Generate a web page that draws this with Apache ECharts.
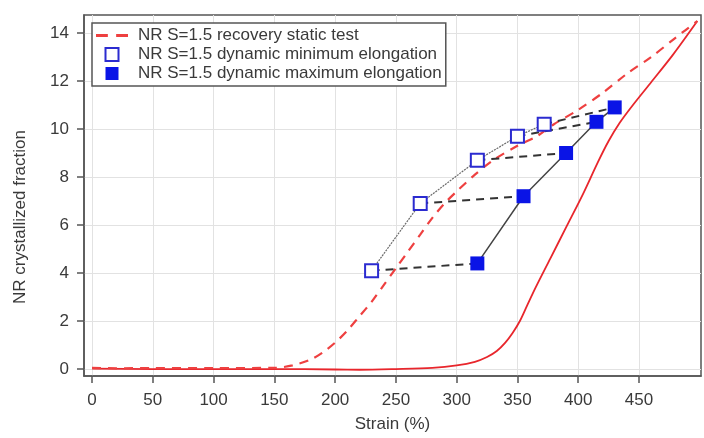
<!DOCTYPE html>
<html>
<head>
<meta charset="utf-8">
<script src="https://cdn.jsdelivr.net/npm/echarts@6/dist/echarts.min.js"></script>
<style>html,body{margin:0;padding:0;background:#fff}#c{width:704px;height:438px}</style>
</head>
<body>
<div id="c"></div>
<script>
// Strain (%) / NR crystallized fraction
const staticRecovery = [[0,0.05],[20,0.03],[50,0.04],[100,0.04],[150,0.05],[165,0.15],[180,0.4],[190,0.7],[200,1.1],[210,1.6],[220,2.2],[230,2.8],[240,3.5],[250,4.2],[260,4.9],[270,5.6],[280,6.3],[290,6.9],[300,7.4],[315,8.1],[330,8.7],[350,9.3],[366,9.7],[380,10.2],[400,10.8],[420,11.5],[440,12.3],[460,13.0],[480,13.8],[498,14.5]];
const staticLoading = [[0,0.02],[50,0.0],[100,0.0],[150,0.0],[200,-0.02],[220,-0.03],[250,0.0],[280,0.05],[300,0.15],[315,0.3],[325,0.5],[333,0.75],[340,1.1],[346,1.5],[352,2.0],[358,2.65],[365,3.4],[377,4.6],[390,5.9],[404,7.3],[416,8.6],[425,9.5],[434,10.25],[445,11.0],[460,11.95],[478,13.1],[498,14.5]];
const dynMin = [[230,4.1],[270,6.9],[317,8.7],[350,9.7],[372,10.2]];
const dynMax = [[317,4.4],[355,7.2],[390,9.0],[415,10.3],[430,10.9]];
const xTicks = [0,50,100,150,200,250,300,350,400,450];
const yTicks = [0,2,4,6,8,10,12,14];
const names = ['NR S=1.5 recovery static test','NR S=1.5 dynamic minimum elongation','NR S=1.5 dynamic maximum elongation'];

const FONT = 'Liberation Sans, Arial, sans-serif';
const TXT = '#3a3a3a';
const AX = '#555';
const RED = '#ee4040';
const BLUE = '#0a14e6';
const BLUE_OPEN = '#2b2bd0';

const pairSeries = dynMin.map((p, i) => ({
  type: 'line', data: [p, dynMax[i]], symbol: 'none', silent: true, z: 3,
  lineStyle: { color: '#333', width: 2, type: [8, 6] }
}));

const chart = echarts.init(document.getElementById('c'), null, { renderer: 'canvas' });
chart.setOption({
  animation: false,
  backgroundColor: '#fff',
  textStyle: { fontFamily: FONT },
  grid: { left: 84, right: 3, top: 15, bottom: 59, show: true, borderColor: AX, borderWidth: 1.5, backgroundColor: 'transparent' },
  legend: {
    data: [
      { name: names[0], icon: 'path://M0,0h10v2.4h-10zM17,0h10v2.4h-10z', itemStyle: { color: RED, borderWidth: 0 } },
      { name: names[1], icon: 'path://M0,0h10v10h-10z', itemStyle: { color: '#fff', borderColor: BLUE_OPEN, borderWidth: 2 } },
      { name: names[2], icon: 'path://M0,0h10v10h-10z', itemStyle: { color: BLUE, borderWidth: 0 } }
    ],
    orient: 'vertical', left: 92, top: 23, symbolKeepAspect: true,
    padding: [4, 4, 4, 4], itemGap: 2, itemWidth: 32, itemHeight: 13,
    backgroundColor: '#fff', borderColor: AX, borderWidth: 1.5, borderRadius: 0,
    textStyle: { fontSize: 17, color: TXT, fontFamily: FONT, padding: [0, 0, 0, 5] }
  },
  xAxis: {
    type: 'value', min: -6.6, max: 501,
    axisLine: { show: true, onZero: false, lineStyle: { color: AX, width: 1.5 } },
    axisTick: { show: true, length: 7, customValues: xTicks, lineStyle: { color: AX, width: 1.5 } },
    axisLabel: { customValues: xTicks, fontSize: 17, color: TXT, margin: 16, fontFamily: FONT },
    splitLine: { show: true, lineStyle: { color: '#e2e2e2', width: 1 } },
    name: 'Strain (%)', nameLocation: 'middle', nameGap: 40,
    nameTextStyle: { fontSize: 17, color: TXT, fontFamily: FONT }
  },
  yAxis: {
    type: 'value', min: -0.29, max: 14.75,
    axisLine: { show: true, onZero: false, lineStyle: { color: AX, width: 1.5 } },
    axisTick: { show: true, length: 7, customValues: yTicks, lineStyle: { color: AX, width: 1.5 } },
    axisLabel: { customValues: yTicks, fontSize: 17, color: TXT, margin: 15, fontFamily: FONT },
    splitLine: { show: true, lineStyle: { color: '#e2e2e2', width: 1 } }
  },
  graphic: [{
    type: 'text', x: 20, y: 217, rotation: Math.PI / 2,
    style: { text: 'NR crystallized fraction', fontSize: 17, fill: TXT, fontFamily: FONT, align: 'center', verticalAlign: 'middle' }
  }],
  series: [
    { name: 'NR S=1.5 static test', type: 'line', data: staticLoading, smooth: 0.3, symbol: 'none', z: 2,
      lineStyle: { color: '#e8262c', width: 1.8 } },
    { name: names[0], type: 'line', data: staticRecovery, smooth: 0.3, symbol: 'none', z: 2,
      itemStyle: { color: RED },
      lineStyle: { color: RED, width: 2.2, type: [9, 7] } },
    { type: 'line', data: dynMin, symbol: 'none', silent: true, z: 3,
      lineStyle: { color: '#6a6a6a', width: 1.2, type: [2, 1] } },
    { type: 'line', data: dynMax, symbol: 'none', silent: true, z: 3,
      lineStyle: { color: '#444', width: 1.5 } },
    ...pairSeries,
    { name: names[1], type: 'scatter', data: dynMin, symbol: 'rect', symbolSize: 13, z: 5,
      itemStyle: { color: '#fff', borderColor: BLUE_OPEN, borderWidth: 2, opacity: 1 } },
    { name: names[2], type: 'scatter', data: dynMax, symbol: 'rect', symbolSize: 14, z: 5,
      itemStyle: { color: BLUE, opacity: 1 } }
  ]
});
</script>
</body>
</html>
